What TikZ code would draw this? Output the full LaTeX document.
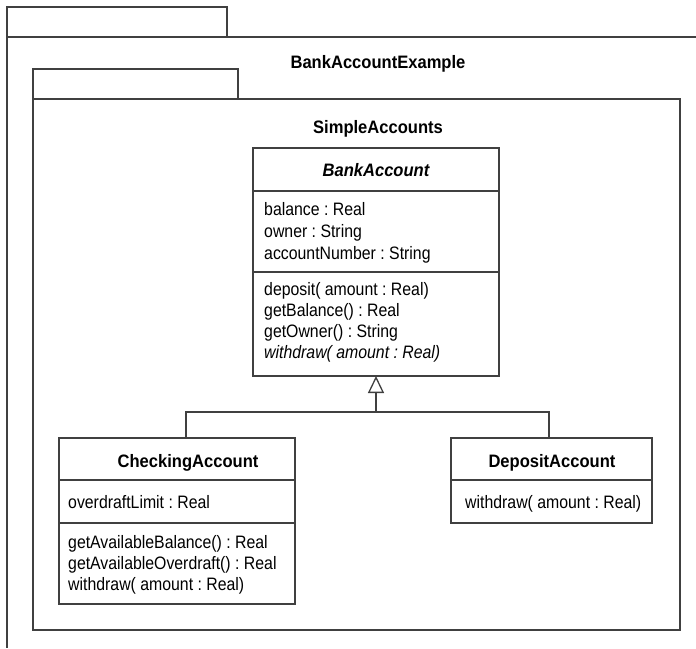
\documentclass[tikz,border=0pt]{standalone}
\usepackage{fontspec}
\setmainfont{Liberation Sans}[FakeStretch=0.88]
\usetikzlibrary{arrows.meta}
\definecolor{ln}{gray}{0.25}
\frenchspacing
\begin{document}
\begin{tikzpicture}[x=1pt,y=-1pt,
  line/.style={draw=ln, line width=1.3pt},
  box/.style={line, rectangle, inner sep=0pt, outer sep=0pt, fill=white},
  txt/.style={inner sep=0pt, anchor=base west, font=\fontsize{18}{21}\selectfont\frenchspacing},
  ttl/.style={inner sep=0pt, anchor=base, font=\fontsize{18}{21}\selectfont\bfseries\addfontfeature{FakeStretch=0.92}},
  conn/.style={draw=ln, line width=1.3pt}]
\useasboundingbox (0,0) rectangle (696,648);
\fill[white] (0,0) rectangle (696,648);
% outer package
\node[box, minimum width=220, minimum height=30] (otab) at (117,22) {};
\draw[line] (696,37) -- (otab.south west) -- (7,648);
\node[ttl] (otitle) at (378,68) {BankAccountExample};
% inner package
\node[box, minimum width=205, minimum height=30] (itab) at (135.5,84) {};
\node[box, minimum width=647, minimum height=531] (ibody) at (356.5,364.5) {};
\node[ttl] (ititle) at (378,133) {SimpleAccounts};
% BankAccount
\node[box, minimum width=246, minimum height=228] (ba) at (376,262) {};
\draw[line] (253,191) -- (499,191);
\draw[line] (253,272) -- (499,272);
\node[ttl, font=\fontsize{18}{21}\selectfont\bfseries\itshape\addfontfeature{FakeStretch=0.92}] (bat) at (376,176) {BankAccount};
\node[txt] (ba1) at (264,215) {balance : Real};
\node[txt] (ba2) at (264,237) {owner : String};
\node[txt] (ba3) at (264,259) {accountNumber : String};
\node[txt] (ba4) at (264,295) {deposit( amount : Real)};
\node[txt] (ba5) at (264,316) {getBalance() : Real};
\node[txt] (ba6) at (264,337) {getOwner() : String};
\node[txt, font=\fontsize{18}{21}\selectfont\itshape\frenchspacing] (ba7) at (264,358) {withdraw( amount : Real)};
% CheckingAccount
\node[box, minimum width=236, minimum height=166] (chk) at (177,521) {};
\draw[line] (59,480) -- (295,480);
\draw[line] (59,523) -- (295,523);
\node[ttl] (chkt) at (188,467) {CheckingAccount};
\node[txt] (chk1) at (68,508) {overdraftLimit : Real};
\node[txt] (chk2) at (68,548) {getAvailableBalance() : Real};
\node[txt] (chk3) at (68,569) {getAvailableOverdraft() : Real};
\node[txt] (chk4) at (68,590) {withdraw( amount : Real)};
% DepositAccount
\node[box, minimum width=201, minimum height=85] (dep) at (551.5,480.5) {};
\draw[line] (451,480) -- (652,480);
\node[ttl] (dept) at (552,467) {DepositAccount};
\node[txt] (dep1) at (465,508) {withdraw( amount : Real)};
% generalization
\coordinate (j) at (376,412);
\coordinate (chkin) at (186,438);
\coordinate (depin) at (549,438);
\draw[conn] (chkin) |- (j) -| (depin);
\draw[conn, -{Triangle[open, length=17pt, width=16pt]}] (j) -- (ba.south);
\end{tikzpicture}
\end{document}
